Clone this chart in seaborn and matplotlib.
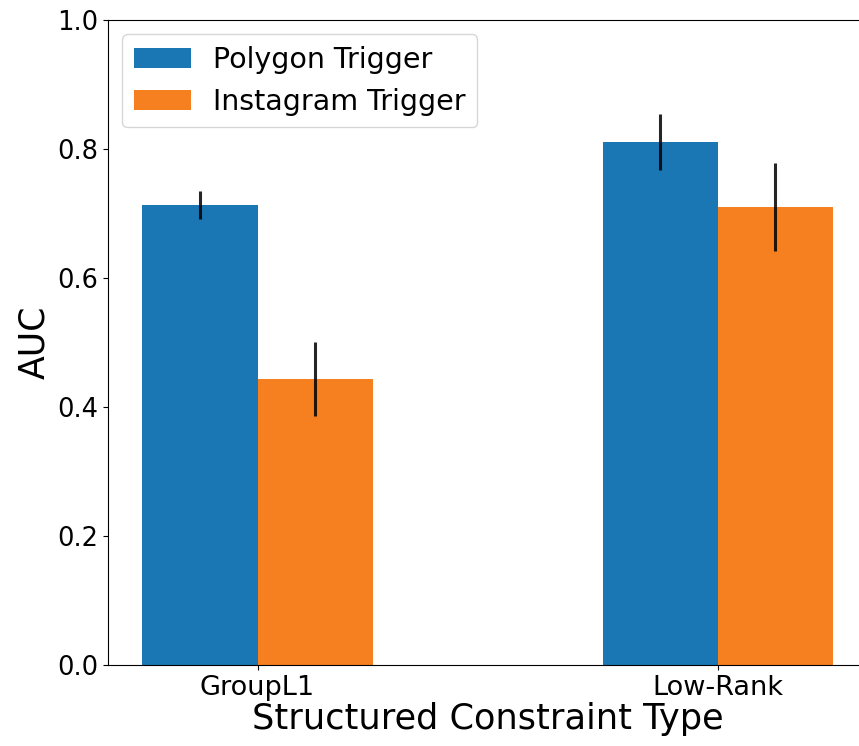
import numpy as np
import pandas as pd
import matplotlib
matplotlib.use("Agg")
import matplotlib.pyplot as plt
import seaborn as sns

# values
constraint_types = ["GroupL1", "Low-Rank"]
triggers = ["Polygon Trigger", "Instagram Trigger"]
polygon_auc = [0.713, 0.811]
polygon_err = [0.022, 0.043]
instagram_auc = [0.443, 0.710]
instagram_err = [0.057, 0.068]

df = pd.DataFrame({
    "type": constraint_types * 2,
    "trigger": [triggers[0]] * 2 + [triggers[1]] * 2,
    "auc": polygon_auc + instagram_auc,
    "err": polygon_err + instagram_err,
})

fig = plt.figure(figsize=(8.59, 7.46), dpi=100)
ax = fig.add_axes([0.1257, 0.1086, 0.884, 0.8646])

sns.barplot(data=df, x="type", y="auc", hue="trigger", hue_order=triggers,
            palette=["#1b76b4", "#f6801f"], saturation=1, width=0.5,
            errorbar=None, ax=ax)

# error bars at the bar centres
for container, trig in zip(ax.containers, triggers):
    sub = df[df["trigger"] == trig].set_index("type").loc[constraint_types]
    xs = [p.get_x() + p.get_width() / 2 for p in container.patches]
    ax.errorbar(xs, sub["auc"], yerr=sub["err"], fmt="none", ecolor="black",
                elinewidth=2.2, alpha=0.85, capsize=0)

ax.set_xlim(-0.325, 1.325)
ax.set_ylim(0, 1.0)
ax.set_xlabel("Structured Constraint Type", fontsize=25.3, labelpad=1)
ax.set_ylabel("AUC", fontsize=25)
ax.tick_params(axis="x", labelsize=19.5)
ax.tick_params(axis="y", labelsize=18.5)
ax.legend(loc="upper left", fontsize=20.5)

fig.savefig("out.png", dpi=100)
